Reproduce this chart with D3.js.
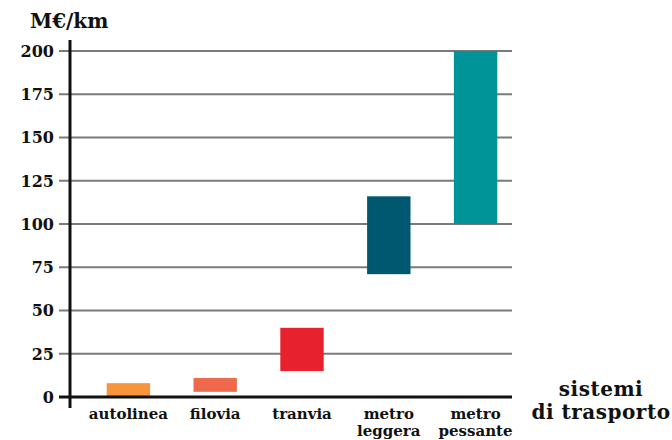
<!DOCTYPE html>
<html>
<head>
<meta charset="utf-8">
<script src="https://cdn.jsdelivr.net/npm/d3@7"></script>
<style>
  body { margin: 0; background: #fff; }
  text { font-family: "DejaVu Serif", serif; font-weight: bold; fill: #111; }
</style>
</head>
<body>
<div id="chart"></div>
<script>
const categories = ["autolinea", "filovia", "tranvia", "metro leggera", "metro pessante"];
const lowValues = [0, 3, 15, 71, 100];
const highValues = [8, 11, 40, 116, 200];
const barColors = ["#F7953D", "#EF6A4C", "#E8212F", "#005770", "#009398"];
const yTicks = [0, 25, 50, 75, 100, 125, 150, 175, 200];

const width = 672, height = 440;

const svg = d3.select("#chart")
    .append("svg")
    .attr("width", width)
    .attr("height", height);

const xScale = d3.scaleBand()
    .domain(categories)
    .range([85, 519])
    .paddingInner(0.5)
    .paddingOuter(0.25);

const yScale = d3.scaleLinear()
    .domain([0, 200])
    .range([397, 51]);

// grid lines + ticks
svg.append("g")
    .selectAll("line")
    .data(yTicks.filter(d => d > 0))
    .enter()
    .append("line")
    .attr("x1", 59)
    .attr("x2", 512)
    .attr("y1", d => yScale(d))
    .attr("y2", d => yScale(d))
    .style("stroke", "#7a7a7a")
    .style("stroke-width", 2);

// tick labels
svg.append("g")
    .selectAll("text")
    .data(yTicks)
    .enter()
    .append("text")
    .attr("x", 54)
    .attr("y", d => yScale(d))
    .attr("dy", "0.36em")
    .attr("text-anchor", "end")
    .style("font-size", "16px")
    .text(d => d);

// bars
svg.append("g")
    .selectAll("rect")
    .data(categories)
    .enter()
    .append("rect")
    .attr("x", d => xScale(d))
    .attr("width", xScale.bandwidth())
    .attr("y", (d, i) => yScale(highValues[i]))
    .attr("height", (d, i) => yScale(lowValues[i]) - yScale(highValues[i]))
    .style("fill", (d, i) => barColors[i]);

// baseline and y axis
svg.append("line")
    .attr("x1", 59).attr("x2", 512)
    .attr("y1", yScale(0)).attr("y2", yScale(0))
    .style("stroke", "#111")
    .style("stroke-width", 3);

svg.append("line")
    .attr("x1", 70).attr("x2", 70)
    .attr("y1", 40).attr("y2", 408)
    .style("stroke", "#111")
    .style("stroke-width", 3);

// category labels, one text per line
const catGroups = svg.append("g")
    .selectAll("g")
    .data(categories)
    .enter()
    .append("g");

catGroups.selectAll("text")
    .data(d => d.split(" ").map((w, i) => ({ cat: d, word: w, line: i })))
    .enter()
    .append("text")
    .attr("x", d => xScale(d.cat) + xScale.bandwidth() / 2)
    .attr("y", d => 419 + d.line * 17)
    .attr("text-anchor", "middle")
    .style("font-size", "15px")
    .text(d => d.word);

// unit label
svg.append("text")
    .attr("x", 30)
    .attr("y", 28)
    .style("font-size", "20px")
    .text("M€/km");

// x axis title
const xTitleLines = ["sistemi", "di trasporto"];
svg.append("g")
    .selectAll("text")
    .data(xTitleLines)
    .enter()
    .append("text")
    .attr("x", 601)
    .attr("y", (d, i) => 396 + i * 23)
    .attr("text-anchor", "middle")
    .style("font-size", "20px")
    .style("letter-spacing", "0.5px")
    .text(d => d);
</script>
</body>
</html>
